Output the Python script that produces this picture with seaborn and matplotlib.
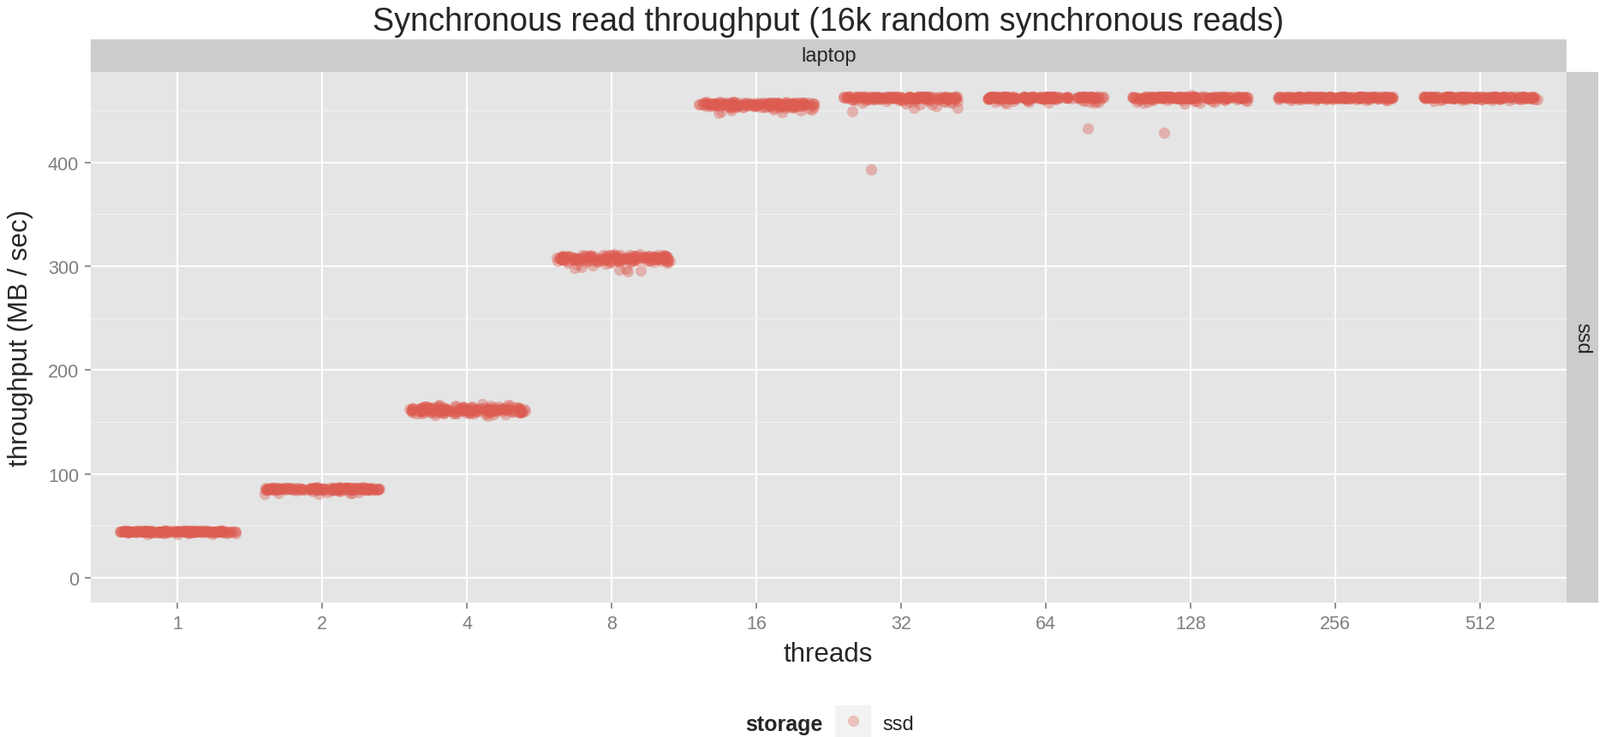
import pandas as pd
import seaborn as sns
import matplotlib.pyplot as plt

# thread counts (x categories)
thread_labels = ["1", "2", "4", "8", "16", "32", "64", "128", "256", "512"]

# throughput samples in MB/sec per thread count
t1 = [44.6, 44.2, 45.1, 44.8, 43.9, 44.4, 45.3, 44.0, 44.7, 42.1, 44.9, 45.0, 44.3, 43.8, 44.6, 45.2, 44.1, 44.5, 44.8, 43.6,
      44.9, 45.4, 44.2, 44.7, 44.0, 41.8, 44.6, 45.1, 44.3, 44.8, 44.4, 45.0, 43.9, 44.7, 44.5, 45.2, 44.1, 42.6, 44.9, 44.6,
      44.3, 45.3, 44.0, 44.8, 44.5, 44.2, 45.0, 44.7, 43.7, 44.9, 44.4, 45.1, 44.6, 42.9, 44.8, 44.3, 45.2, 44.5, 44.1, 44.7,
      45.0, 44.4, 44.8, 43.8, 44.6, 45.3, 44.2, 44.9, 44.5, 44.0, 45.1, 44.7, 43.5, 44.4, 44.8, 45.2, 44.3, 44.6, 42.4, 44.9,
      44.1, 44.7, 45.0, 44.5, 43.9, 44.8, 44.2, 45.4, 44.6, 44.3, 44.9, 44.0, 45.1, 44.5, 43.2, 44.7, 44.4, 45.0, 44.6, 44.2,
      44.5, 44.9, 44.2, 45.1, 44.6, 43.8, 44.8, 44.3, 45.2, 44.0, 44.7, 44.4, 45.0, 44.6, 43.4, 44.9, 44.1, 44.8, 45.3, 44.5,
      44.3, 44.7, 45.0, 44.2, 44.9, 44.6, 42.8, 44.4, 45.1, 44.8, 44.0, 44.5, 45.2, 44.7, 44.3, 44.9, 43.9, 44.6, 45.0, 44.4,
      44.8, 44.1, 45.3, 44.5, 44.7, 44.2, 44.9, 43.6, 44.6, 45.1, 44.4, 44.8, 44.0, 45.0, 44.5, 44.3, 44.7, 45.2, 44.6, 44.9]
t2 = [85.6, 86.2, 84.9, 85.8, 86.5, 85.1, 84.6, 86.0, 85.4, 87.1, 85.9, 84.8, 86.3, 85.2, 80.4, 85.7, 86.6, 85.0, 84.4, 86.1,
      85.5, 86.9, 85.3, 84.7, 86.4, 85.8, 81.2, 85.6, 86.2, 84.9, 85.1, 86.7, 85.9, 84.5, 86.0, 85.4, 87.3, 85.2, 83.8, 86.3,
      85.7, 82.0, 86.1, 85.0, 86.8, 85.5, 84.6, 86.4, 85.3, 85.9, 80.9, 86.2, 85.6, 84.8, 86.5, 85.1, 86.0, 85.8, 84.3, 86.6,
      85.2, 86.1, 85.7, 84.9, 86.3, 85.4, 86.8, 85.0, 84.7, 86.5, 85.9, 85.3, 83.5, 86.2, 85.6, 87.0, 85.1, 86.4, 84.8, 85.8,
      86.0, 85.5, 84.5, 86.7, 85.2, 86.1, 81.7, 85.9, 85.4, 86.6, 85.0, 84.6, 86.3, 85.7, 86.9, 85.3, 84.2, 86.0, 85.6, 86.4,
      85.4, 86.3, 85.0, 85.9, 86.6, 85.2, 84.7, 86.1, 85.5, 86.9, 85.8, 84.9, 86.4, 85.3, 82.6, 85.6, 86.7, 85.1, 84.5, 86.2,
      85.7, 86.0, 85.4, 84.8, 86.5, 85.9, 85.2, 86.3, 85.0, 84.6, 86.1, 85.6, 86.8, 85.3, 84.4, 86.0, 85.8, 83.2, 86.2, 85.5,
      85.1, 86.4, 85.7, 84.9, 86.6, 85.4, 86.1, 85.0, 85.9, 86.3, 84.7, 85.6, 86.9, 85.2, 85.8, 81.5, 86.0, 85.3, 86.5, 85.7]
t4 = [161.2, 162.5, 159.8, 163.1, 160.4, 161.9, 158.7, 164.2, 160.9, 162.8, 159.3, 161.5, 165.1, 160.1, 162.2, 157.9, 163.6, 161.0, 159.6, 162.9,
      160.7, 164.8, 161.7, 158.4, 163.3, 160.3, 162.1, 166.4, 159.1, 161.4, 162.6, 160.0, 163.9, 161.8, 157.2, 162.4, 160.6, 164.5, 159.5, 161.3,
      163.0, 160.2, 162.7, 158.9, 161.6, 165.6, 160.8, 162.0, 159.0, 163.4, 161.1, 155.9, 162.3, 160.5, 164.0, 161.7, 159.4, 167.2, 160.9, 162.5,
      161.5, 159.9, 163.7, 160.6, 162.2, 158.2, 164.6, 161.3, 160.0, 162.9, 159.7, 163.2, 161.8, 157.6, 162.6, 160.4, 165.3, 161.0, 159.2, 163.5,
      160.3, 162.0, 164.3, 161.6, 158.8, 163.8, 160.9, 162.4, 159.6, 161.2, 166.0, 160.1, 162.8, 158.5, 161.9, 163.1, 160.7, 164.9, 161.4, 156.8,
      161.6, 162.9, 160.2, 163.4, 160.8, 162.3, 159.1, 164.0, 161.3, 162.6, 159.7, 161.9, 164.7, 160.5, 162.4, 158.3, 163.8, 161.4, 159.9, 163.1,
      160.9, 164.4, 162.0, 158.6, 163.6, 160.6, 162.5, 165.9, 159.4, 161.7, 162.8, 160.3, 163.5, 162.1, 157.7, 162.7, 160.9, 164.1, 159.8, 161.5,
      163.2, 160.4, 162.9, 159.3, 161.8, 165.0, 161.0, 162.2, 159.5, 163.7, 161.3, 158.1, 162.6, 160.8, 164.3, 161.9, 159.6, 166.7, 161.1, 162.7]
t8 = [307.4, 308.9, 305.8, 309.6, 306.7, 308.1, 304.9, 310.2, 307.0, 308.6, 295.3, 306.2, 309.1, 307.8, 305.4, 310.8, 306.9, 308.4, 304.3, 309.4,
      307.2, 296.1, 308.0, 305.9, 309.9, 306.5, 307.6, 311.3, 305.1, 308.7, 307.3, 303.8, 309.2, 306.0, 308.3, 298.2, 307.9, 305.6, 310.5, 306.8,
      308.5, 304.6, 309.7, 307.1, 300.4, 308.2, 305.3, 309.0, 306.4, 307.7, 310.0, 305.0, 308.8, 306.1, 307.5, 299.1, 309.3, 306.6, 308.0, 304.0,
      306.3, 309.5, 307.4, 305.2, 310.6, 308.1, 306.8, 304.4, 309.8, 307.0, 311.6, 305.7, 308.6, 306.2, 302.9, 309.1, 307.8, 305.5, 310.3, 308.4,
      307.2, 304.8, 309.4, 306.9, 308.3, 296.8, 307.6, 305.9, 310.9, 306.4, 308.7, 307.1, 303.5, 309.6, 306.6, 308.0, 305.4, 310.1, 307.3, 301.6,
      307.8, 309.2, 306.1, 309.9, 307.0, 308.4, 305.2, 310.4, 307.3, 308.9, 304.5, 306.5, 309.4, 308.1, 305.7, 310.6, 307.2, 308.7, 304.7, 309.7,
      307.5, 302.4, 308.3, 306.2, 310.1, 306.8, 307.9, 311.0, 305.4, 309.0, 307.6, 304.1, 309.5, 306.3, 308.6, 306.0, 308.2, 305.9, 310.7, 307.1,
      308.8, 304.9, 310.0, 307.4, 303.2, 308.5, 305.6, 309.3, 306.7, 308.0, 310.3, 305.3, 309.1, 306.4, 307.8, 297.4, 309.6, 306.9, 308.3, 304.3]
t16 = [455.6, 456.4, 454.3, 457.1, 455.0, 456.8, 453.7, 455.9, 457.5, 454.8, 447.3, 456.2, 455.3, 453.9, 457.8, 455.7, 454.5, 456.6, 452.8, 455.4,
       457.2, 454.1, 456.0, 449.8, 455.8, 453.5, 456.9, 455.1, 454.6, 457.4, 456.3, 452.4, 455.5, 456.7, 454.0, 457.0, 455.2, 453.3, 456.5, 448.6,
       455.9, 454.4, 457.6, 455.0, 456.1, 453.8, 456.8, 455.4, 450.7, 457.3, 454.7, 456.4, 455.6, 453.1, 456.0, 454.9, 457.7, 455.3, 452.1, 456.5,
       454.2, 456.7, 455.8, 453.6, 457.2, 455.1, 456.3, 454.8, 457.9, 455.5, 451.6, 456.0, 454.5, 457.0, 455.7, 453.4, 456.6, 455.2, 454.0, 457.4,
       455.9, 456.9, 453.9, 455.3, 457.1, 454.6, 456.2, 449.1, 455.6, 456.8, 454.3, 457.5, 455.0, 453.2, 456.4, 455.8, 454.7, 457.3, 455.4, 456.1,
       455.9, 456.7, 454.6, 457.4, 455.3, 457.0, 454.0, 456.2, 457.7, 455.1, 451.0, 456.5, 455.6, 454.2, 458.0, 456.0, 454.8, 456.9, 453.1, 455.7,
       457.5, 454.4, 456.3, 452.6, 456.1, 453.8, 457.2, 455.4, 454.9, 457.6, 456.6, 453.0, 455.8, 457.0, 454.3, 457.3, 455.5, 453.6, 456.8, 450.2,
       456.2, 454.7, 457.8, 455.3, 456.4, 454.1, 457.1, 455.7, 452.9, 457.5, 455.0, 456.7, 455.9, 453.4, 456.3, 455.2, 457.9, 455.6, 452.5, 456.8]
t32 = [462.3, 461.6, 463.1, 462.0, 460.9, 462.8, 461.4, 463.4, 452.0, 462.5, 461.1, 462.9, 460.6, 463.0, 461.8, 462.4, 458.2, 462.7, 461.3, 463.3,
       462.1, 449.2, 461.7, 462.6, 460.3, 463.2, 462.2, 461.0, 457.4, 462.9, 392.8, 461.9, 462.4, 463.5, 460.8, 462.0, 461.5, 455.3, 462.7, 461.2,
       463.1, 462.3, 459.6, 462.6, 461.6, 452.3, 462.8, 461.4, 463.0, 460.5, 462.2, 461.9, 458.6, 462.5, 461.0, 463.4, 462.1, 456.8, 461.7, 462.9,
       461.8, 462.6, 463.2, 460.7, 462.4, 461.3, 463.0, 462.0, 459.2, 462.8, 461.5, 462.3, 463.3, 460.9, 462.1, 461.7, 457.9, 462.7, 461.2, 463.1,
       462.5, 461.9, 460.2, 462.9, 461.4, 463.2, 462.2, 455.9, 461.8, 462.6, 463.0, 461.1, 462.4, 460.4, 462.8, 461.6, 463.4, 462.0, 459.0, 462.3,
       462.4, 461.7, 463.2, 462.1, 461.0, 462.9, 461.5, 463.3, 460.1, 462.6, 461.2, 463.0, 460.7, 463.1, 461.9, 462.5, 458.8, 462.8, 461.4, 463.4,
       462.2, 461.3, 461.8, 462.7, 460.4, 463.3, 462.3, 461.1, 459.3, 463.0, 461.6, 462.0, 462.5, 463.4, 460.9, 462.1, 461.6, 457.0, 462.8, 461.3,
       463.2, 462.4, 460.0, 462.7, 461.7, 454.4, 462.9, 461.5, 463.1, 460.6, 462.3, 462.0, 459.7, 462.6, 461.1, 463.3, 462.2, 458.1, 461.8, 463.0]
t64 = [462.6, 461.9, 463.2, 462.3, 461.4, 463.0, 462.0, 461.6, 463.5, 462.4, 458.1, 462.8, 461.7, 463.1, 462.2, 433.0, 461.5, 462.9, 462.5, 461.8,
       463.3, 462.1, 457.2, 462.7, 461.3, 463.0, 462.4, 461.9, 462.6, 459.4, 462.3, 461.6, 463.4, 462.0, 461.2, 462.8, 457.6, 462.5, 461.8, 463.1,
       462.2, 461.4, 462.9, 462.6, 458.9, 462.1, 463.2, 461.7, 462.4, 461.9, 463.0, 462.7, 460.4, 462.3, 461.5, 462.8, 462.0, 463.3, 456.9, 462.5,
       461.8, 462.9, 463.1, 462.2, 461.3, 462.6, 460.8, 462.4, 463.4, 461.6, 462.0, 462.7, 459.8, 463.0, 461.9, 462.3, 461.4, 462.8, 463.2, 458.5,
       462.1, 461.7, 463.0, 462.5, 461.2, 462.9, 462.2, 457.9, 461.8, 463.3, 462.4, 461.5, 462.7, 460.1, 462.0, 463.1, 461.9, 462.6, 461.3, 462.8,
       462.7, 462.0, 463.3, 462.4, 461.5, 463.1, 462.1, 461.7, 463.4, 462.5, 459.0, 462.9, 461.8, 463.2, 462.3, 461.4, 461.6, 463.0, 462.6, 461.9,
       463.2, 462.2, 458.4, 462.8, 461.4, 463.1, 462.5, 462.0, 462.7, 460.2, 462.4, 461.7, 463.5, 462.1, 461.3, 462.9, 459.1, 462.6, 461.9, 463.2,
       462.3, 461.5, 463.0, 462.7, 460.6, 462.2, 463.3, 461.8, 462.5, 462.0, 463.1, 462.8, 461.0, 462.4, 461.6, 462.9, 462.1, 463.4, 458.3, 462.6]
t128 = [462.5, 461.8, 463.1, 462.2, 461.3, 462.9, 461.9, 463.4, 462.4, 457.9, 462.7, 461.6, 463.0, 462.1, 461.4, 462.8, 456.8, 462.3, 461.7, 463.2,
        462.6, 461.2, 465.0, 462.0, 461.5, 462.9, 458.3, 462.4, 461.8, 463.3, 428.8, 462.2, 461.6, 462.7, 463.0, 461.9, 462.5, 457.1, 462.1, 461.4,
        462.8, 463.1, 462.3, 459.0, 461.7, 462.6, 461.3, 463.2, 462.0, 461.8, 462.9, 458.0, 462.4, 461.5, 463.0, 462.2, 461.9, 462.7, 460.2, 462.5,
        461.6, 462.9, 463.3, 462.1, 461.2, 462.7, 460.7, 462.4, 463.0, 461.7, 462.2, 462.8, 459.5, 463.1, 461.9, 462.3, 461.4, 462.6, 463.2, 457.5,
        462.0, 461.8, 463.0, 462.5, 461.3, 462.9, 462.1, 458.7, 461.6, 463.4, 462.4, 461.5, 462.7, 460.0, 462.2, 463.1, 461.9, 462.6, 461.2, 462.8,
        462.6, 461.9, 463.2, 462.3, 461.4, 463.0, 462.0, 463.3, 462.5, 459.4, 462.8, 461.7, 463.1, 462.2, 461.5, 462.9, 458.6, 462.4, 461.8, 463.3,
        462.7, 461.3, 462.1, 462.1, 461.6, 463.0, 459.8, 462.5, 461.9, 463.2, 461.5, 462.3, 461.7, 462.8, 463.1, 462.0, 462.6, 458.9, 462.2, 461.5,
        462.9, 463.2, 462.4, 460.3, 461.8, 462.7, 461.4, 463.3, 462.1, 461.9, 463.0, 459.6, 462.5, 461.6, 463.1, 462.3, 462.0, 462.8, 461.0, 462.6]
t256 = [462.6, 462.0, 463.0, 462.3, 461.7, 462.8, 462.1, 463.2, 462.4, 461.5, 462.9, 462.2, 460.1, 462.7, 461.9, 463.1, 462.5, 461.8, 462.8, 462.0,
        463.3, 462.4, 459.8, 462.6, 461.6, 462.9, 462.2, 463.0, 461.9, 462.5, 462.7, 461.4, 463.1, 462.3, 460.6, 462.8, 462.1, 462.6, 463.2, 461.8,
        462.4, 462.9, 459.5, 462.2, 461.7, 462.7, 463.0, 462.0, 462.5, 461.6, 462.8, 462.3, 460.9, 462.6, 462.1, 463.1, 462.4, 461.9, 462.7, 462.2,
        461.8, 462.5, 463.2, 462.0, 461.5, 462.9, 462.4, 460.4, 462.7, 461.9, 463.0, 462.1, 462.6, 461.4, 462.8, 463.1, 462.3, 459.9, 462.5, 462.0,
        462.7, 461.7, 462.9, 463.3, 462.2, 461.6, 462.4, 460.7, 462.8, 462.0, 463.0, 462.5, 461.8, 462.6, 462.1, 463.2, 461.5, 462.9, 462.3, 460.3,
        462.5, 462.1, 463.1, 462.4, 461.8, 462.9, 462.2, 463.3, 462.5, 461.6, 463.0, 462.3, 460.8, 462.8, 462.0, 463.2, 462.6, 461.9, 462.9, 462.1,
        463.2, 462.5, 460.5, 462.7, 461.7, 463.0, 462.3, 463.1, 462.0, 462.6, 462.8, 461.5, 463.2, 462.4, 461.2, 462.9, 462.2, 462.7, 463.3, 461.9,
        462.5, 463.0, 460.2, 462.3, 461.8, 462.8, 463.1, 462.1, 462.6, 461.7, 462.9, 462.4, 461.3, 462.7, 462.2, 463.2, 462.5, 462.0, 462.8, 462.3]
t512 = [462.5, 461.9, 463.1, 462.2, 461.6, 462.8, 462.0, 463.2, 462.4, 461.4, 462.9, 462.1, 459.6, 462.7, 461.8, 463.0, 462.5, 461.7, 462.8, 462.0,
        463.3, 462.3, 460.3, 462.6, 461.5, 462.9, 462.2, 463.0, 461.8, 462.4, 462.7, 461.3, 463.1, 462.3, 459.2, 462.8, 462.1, 462.6, 463.2, 461.9,
        462.4, 462.9, 460.8, 462.2, 461.6, 462.7, 463.0, 462.0, 462.5, 461.7, 462.8, 462.3, 459.9, 462.6, 462.1, 463.1, 462.4, 461.8, 462.7, 462.2,
        461.9, 462.6, 463.2, 462.1, 461.4, 462.8, 462.3, 460.5, 462.7, 461.8, 463.0, 462.2, 462.5, 461.5, 462.9, 463.1, 462.4, 459.4, 462.6, 462.0,
        462.8, 461.6, 462.9, 463.3, 462.1, 461.7, 462.5, 460.6, 462.7, 462.0, 463.1, 462.4, 461.9, 462.6, 462.2, 463.0, 461.4, 462.8, 462.3, 460.9,
        462.6, 462.0, 463.2, 462.3, 461.7, 462.9, 462.1, 463.3, 462.5, 461.5, 463.0, 462.2, 460.4, 462.8, 461.9, 463.1, 462.6, 461.8, 462.9, 462.1,
        463.2, 462.4, 460.9, 462.7, 461.6, 463.0, 462.3, 463.1, 461.9, 462.5, 462.8, 461.4, 463.2, 462.4, 460.0, 462.9, 462.2, 462.7, 463.3, 462.0,
        462.5, 463.0, 461.2, 462.3, 461.7, 462.8, 463.1, 462.1, 462.6, 461.8, 462.9, 462.4, 460.5, 462.7, 462.2, 463.2, 462.5, 461.9, 462.8, 462.3]

samples = [t1, t2, t4, t8, t16, t32, t64, t128, t256, t512]

POINT_COLOR = "#DD5C51"
POINT_ALPHA = 0.38
W, H = 1868, 862


def box(left, top, right, bottom):
    # pixel box -> figure fraction rect
    return [left / W, 1 - bottom / H, (right - left) / W, (bottom - top) / H]


def bare(ax, color):
    ax.set_facecolor(color)
    ax.set_xticks([])
    ax.set_yticks([])
    for s in ax.spines.values():
        s.set_visible(False)


def main():
    rows = []
    for label, vals in zip(thread_labels, samples):
        for v in vals:
            rows.append({"threads": label, "throughput": v, "storage": "ssd"})
    df = pd.DataFrame(rows)

    sns.set_theme(style="white")
    plt.rcParams['font.family'] = ['Liberation Sans', 'DejaVu Sans']

    fig = plt.figure(figsize=(W / 100, H / 100), dpi=100)
    ax = fig.add_axes(box(106, 85, 1829, 705))
    ax.set_facecolor("#E5E5E5")

    sns.stripplot(data=df, x="threads", y="throughput", order=thread_labels,
                  jitter=0.4, size=9.5, alpha=POINT_ALPHA, color=POINT_COLOR,
                  linewidth=0, ax=ax)

    ax.set_xlim(-0.6, 9.6)
    ax.set_ylim(-23.9, 487)
    ax.set_yticks([0, 100, 200, 300, 400])
    ax.set_yticks([50, 150, 250, 350, 450], minor=True)
    ax.grid(which="major", color="white", linewidth=1.5)
    ax.grid(which="minor", axis="y", color="#F2F2F2", linewidth=0.8)
    ax.set_axisbelow(True)
    for s in ax.spines.values():
        s.set_visible(False)
    ax.tick_params(which="major", length=5, width=1.2, color="#7F7F7F",
                   labelcolor="#7F7F7F", labelsize=15.5, pad=5,
                   bottom=True, left=True)
    ax.tick_params(which="minor", length=0)
    ax.set_xlabel("")
    ax.set_ylabel("")

    # facet strips
    sax = fig.add_axes(box(106, 47, 1829, 85))
    bare(sax, "#CCCCCC")
    sax.text(0.5, 0.5, "laptop", ha="center", va="center", fontsize=17,
             transform=sax.transAxes)

    rax = fig.add_axes(box(1829, 85, 1866, 705))
    bare(rax, "#CCCCCC")
    rax.text(0.5, 0.5, "ssd", ha="center", va="center", fontsize=17,
             rotation=-90, transform=rax.transAxes)

    # titles
    fig.text(967 / W, 1 - 26 / H, "Synchronous read throughput (16k random synchronous reads)",
             ha="center", va="center", fontsize=27.2)
    fig.text(24 / W, 1 - 395 / H, "throughput (MB / sec)", ha="center", va="center",
             rotation=90, fontsize=22.5)
    fig.text(967 / W, 1 - 765 / H, "threads", ha="center", va="center", fontsize=22.5)

    # legend
    fig.text(915 / W, 1 - 847 / H, "storage", ha="center", va="center",
             fontsize=18, fontweight="bold")
    kax = fig.add_axes(box(975, 825, 1017, 870))
    bare(kax, "#F2F2F2")
    kax.plot([0], [0], "o", ms=9.5, alpha=0.33, color=POINT_COLOR, mew=0)
    kax.set_xlim(-1, 1)
    kax.set_ylim(-1.2, 0.8)
    fig.text(1030 / W, 1 - 847 / H, "ssd", ha="left", va="center", fontsize=17)

    fig.savefig("out.png", dpi=100)


if __name__ == "__main__":
    main()
